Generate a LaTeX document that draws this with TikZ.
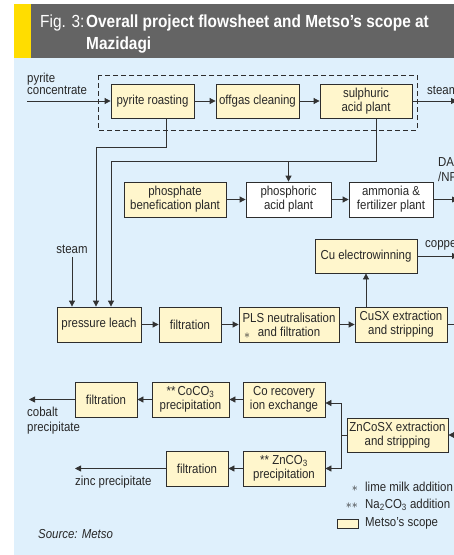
\documentclass[tikz,border=0pt]{standalone}
\usepackage{fontspec}
\setmainfont{Liberation Sans}[FakeStretch=0.88]
\usetikzlibrary{arrows.meta}

\begin{document}
\begin{tikzpicture}[x=1pt,y=-1pt,
  unit/.style={draw=boxline,fill=scopefill,line width=0.8pt,inner sep=1pt,minimum height=34pt,align=center,text=labeltext,font=\fontsize{13}{14}\selectfont},
  whitebox/.style={unit,fill=white},
  flow/.style={draw=flowline,line width=0.8pt,-{Triangle[length=6pt,width=6pt]}},
  pipe/.style={draw=flowline,line width=0.8pt},
  lbl/.style={inner sep=0pt,text=labeltext,font=\fontsize{13}{14}\selectfont}]
  \definecolor{bgblue}{RGB}{223,240,252}
  \definecolor{scopefill}{RGB}{255,246,204}
  \definecolor{titlebar}{RGB}{100,100,100}
  \definecolor{stripe}{RGB}{255,221,0}
  \definecolor{boxline}{RGB}{45,45,45}
  \definecolor{flowline}{RGB}{50,50,50}
  \definecolor{labeltext}{RGB}{40,40,40}

  \useasboundingbox (0,0) rectangle (454,555);
  \clip (0,0) rectangle (454,555);

  % title bar
  \fill[bgblue] (14,58) rectangle (454,555);
  \fill[titlebar] (31,4) rectangle (454,58);
  \fill[stripe] (14,4) rectangle (31,58);
  \node[anchor=base west,inner sep=0pt,text=white,font=\fontsize{17.5}{22}\selectfont] (fignum) at (40,27.3) {Fig. 3:};
  \node[anchor=north west,inner sep=0pt,text=white,align=left,font=\fontsize{17.5}{22}\selectfont\bfseries] (title) at (86,14.6) {Overall project flowsheet and Metso's scope at\\Mazidagi};

  % roasting and acid (Metso frame)
  \draw[boxline,line width=0.8pt,dash pattern=on 5pt off 3pt] (98,75) rectangle (417,130);
  \node[unit,minimum width=83pt] (roast) at (152.5,101) {pyrite roasting};
  \node[unit,minimum width=83pt] (offgas) at (257.5,101) {offgas cleaning};
  \node[unit,minimum width=92pt] (acid) at (366,101) {sulphuric\\acid plant};
  \node[lbl,anchor=north west,align=left,font=\fontsize{13}{11.6}\selectfont] (feedtext) at (27,73.2) {pyrite\\concentrate};
  \node[lbl,anchor=base west] (steamtext) at (427,94) {steam};
  \coordinate (feed) at (27,101);
  \coordinate (steamout) at (457,101);
  \draw[flow] (feed) -- (roast);
  \draw[flow] (roast) -- (offgas);
  \draw[flow] (offgas) -- (acid);
  \draw[flow] (acid) -- (steamout);

  % phosphate line
  \node[unit,minimum width=102pt,minimum height=35pt] (benef) at (175,199.5) {phosphate\\benefication plant};
  \node[whitebox,minimum width=85pt,minimum height=35pt] (phosacid) at (288.5,199.5) {phosphoric\\acid plant};
  \node[whitebox,minimum width=84pt,minimum height=35pt] (ammonia) at (391,199.5) {ammonia \&\\fertilizer plant};
  \node[lbl,anchor=north west,align=left,font=\fontsize{13}{15}\selectfont] (daptext) at (438,157.4) {DAP\\/NPK};
  \coordinate (dapout) at (458,199.5);
  \draw[flow] (benef) -- (phosacid);
  \draw[flow] (phosacid) -- (ammonia);
  \draw[flow] (ammonia) -- (dapout);

  % feeds to the leach
  \coordinate (r1) at (166,147);
  \coordinate (r2) at (96,147);
  \coordinate (a1) at (376,161);
  \coordinate (a2) at (111,161);
  \node[unit,minimum width=84pt,minimum height=35pt] (leach) at (99,324.5) {pressure leach};
  \node[lbl,anchor=base] (steamin) at (72,253) {steam};
  \draw[flow] (roast.south -| r1) -- (r1) -- (r2) -- (leach.north -| r2);
  \draw[flow] (acid.south -| a1) -- (a1) -- (a2) -- (leach.north -| a2);
  \draw[flow] (phosacid.north |- a1) -- (phosacid.north);
  \draw[flow] ([yshift=-3.5pt]steamin.south) -- (leach.north -| steamin.south);

  % copper line
  \node[unit,minimum width=62pt,minimum height=35pt] (filt) at (190,324.5) {filtration};
  \node[unit,minimum width=100pt,minimum height=35pt] (pls) at (289,324.5) {PLS neutralisation\\and filtration};
  \node[lbl] (plsstar) at (247,335.5) {$\ast$};
  \node[unit,minimum width=92pt,minimum height=35pt] (cusx) at (401,324.5) {CuSX extraction\\and stripping};
  \node[unit,minimum width=102pt] (cuew) at (366,256) {Cu electrowinning};
  \node[lbl,anchor=base west] (coppertext) at (425,247) {copper};
  \coordinate (cuout) at (458,256);
  \coordinate (cusxout) at (470,324.5);
  \draw[flow] (leach) -- (filt);
  \draw[flow] (filt) -- (pls);
  \draw[flow] (pls) -- (cusx);
  \draw[pipe] (cusx) -- (cusxout);
  \draw[flow] (cusx.north -| cuew.south) -- (cuew.south);
  \draw[flow] (cuew) -- (cuout);

  % cobalt line
  \node[unit,minimum width=62pt,minimum height=35pt] (cofilt) at (106,399.5) {filtration};
  \node[unit,minimum width=77pt,minimum height=35pt] (coprec) at (190.5,399.5) {**\,CoCO\textsubscript{3}\\precipitation};
  \node[unit,minimum width=82pt,minimum height=35pt] (corec) at (284,399.5) {Co recovery\\ion exchange};
  \node[lbl,anchor=north west,align=left,font=\fontsize{13}{14.3}\selectfont] (cotext) at (27,407.2) {cobalt\\precipitate};
  \coordinate (coout) at (29,399.5);
  \draw[flow] (corec) -- (coprec);
  \draw[flow] (coprec) -- (cofilt);
  \draw[flow] (cofilt) -- (coout);

  % zinc line
  \node[unit,minimum width=101pt] (zncosx) at (397.5,435) {ZnCoSX extraction\\and stripping};
  \node[unit,minimum width=82pt,minimum height=35pt] (znprec) at (284,468.5) {**\ ZnCO\textsubscript{3}\\precipitation};
  \node[unit,minimum width=62pt,minimum height=35pt] (znfilt) at (197,468.5) {filtration};
  \node[lbl,anchor=base west] (zntext) at (75,485) {zinc precipitate};
  \coordinate (znin) at (470,435);
  \coordinate (split) at (341,435);
  \coordinate (znout) at (75,468.5);
  \draw[flow] (znin) -- (zncosx);
  \draw[pipe] (zncosx) -- (split);
  \draw[flow] (split) |- ([yshift=-3.5pt]corec.east);
  \draw[flow] (split) |- (znprec.east);
  \draw[flow] (znprec) -- (znfilt);
  \draw[flow] (znfilt) -- (znout);

  % key
  \node[lbl,anchor=base east] (key1) at (358,491) {$\ast$};
  \node[lbl,anchor=base west] (limetext) at (365,491) {lime milk addition};
  \node[lbl,anchor=base east] (key2) at (358,508.3) {$\ast\ast$};
  \node[lbl,anchor=base west] (sodatext) at (365,508.3) {Na\textsubscript{2}CO\textsubscript{3} addition};
  \node[unit,minimum width=21pt,minimum height=9pt,inner sep=0pt] (keybox) at (347.5,523.5) {};
  \node[lbl,anchor=base west] (scopetext) at (365,526.7) {Metso's scope};
  \node[lbl,anchor=base west,font=\fontsize{13}{14}\selectfont\itshape] (source) at (38,538) {Source: Metso};
\end{tikzpicture}
\end{document}
